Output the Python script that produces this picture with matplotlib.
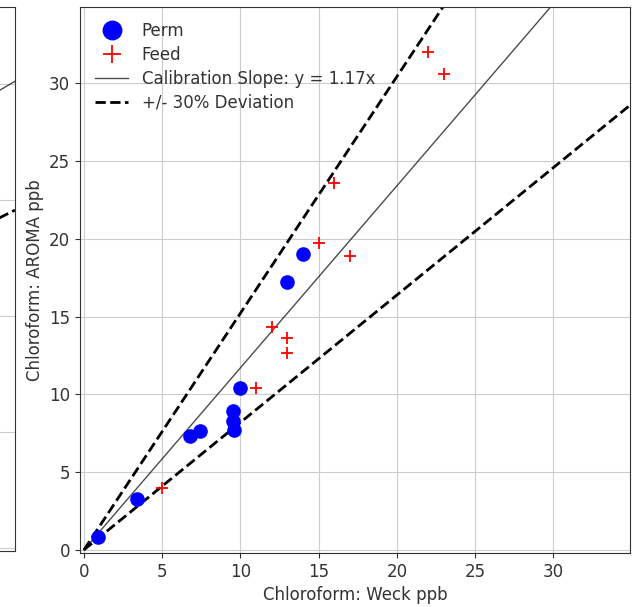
import numpy as np
import matplotlib
matplotlib.use("Agg")
import matplotlib.pyplot as plt

# main panel data
perm_weck = [0.9, 3.4, 6.8, 7.4, 9.5, 9.5, 9.6, 10.0, 13.0, 14.0]
perm_aroma = [0.8, 3.3, 7.3, 7.65, 8.9, 8.3, 7.7, 10.4, 17.2, 19.0]
feed_weck = [5.0, 11.0, 12.0, 13.0, 13.0, 15.0, 16.0, 17.0, 22.0, 23.0]
feed_aroma = [4.0, 10.4, 14.3, 13.6, 12.65, 19.7, 23.6, 18.9, 32.0, 30.6]
slope = 1.17
deviation = 0.30
ticks = [0, 5, 10, 15, 20, 25, 30]

# neighbouring panel, only its right edge is visible
left_fit = (0.136, 2.66)
left_dev = (0.115, 1.76)


def main():
    plt.rcParams["font.size"] = 12
    plt.rcParams["text.color"] = "#333333"
    plt.rcParams["axes.labelcolor"] = "#333333"
    plt.rcParams["xtick.labelcolor"] = "#333333"
    plt.rcParams["ytick.labelcolor"] = "#333333"
    plt.rcParams["axes.edgecolor"] = "#333333"
    plt.rcParams["xtick.color"] = "#333333"
    plt.rcParams["ytick.color"] = "#333333"
    fig = plt.figure(figsize=(6.32, 6.07), dpi=100)

    # cropped neighbour panel
    ax0 = fig.add_axes([-0.4, 0.0923, 0.4237, 0.8962])
    ax0.set_xlim(0, 10)
    ax0.set_ylim(-0.026, 4.66)
    xx = np.array([0, 10])
    ax0.plot(xx, left_fit[0] * xx + left_fit[1], color="k", lw=1, alpha=0.7)
    ax0.plot(xx, left_dev[0] * xx + left_dev[1], "k--", lw=2)
    ax0.set_yticks([0, 1, 2, 3, 4])
    ax0.set_xticks([])
    ax0.grid(True, color="#cccccc")
    ax0.tick_params(labelleft=False, left=False)

    # main panel
    ax = fig.add_axes([0.1266, 0.0890, 0.8702, 0.8995])
    ax.plot(perm_weck, perm_aroma, "o", color="blue", markersize=9.5, label="Perm", zorder=3)
    ax.plot(feed_weck, feed_aroma, "+", color="red", markersize=9, mew=1.3, label="Feed", zorder=3)

    x = np.array([0, 40])
    ax.plot(x, slope * x, color="k", lw=1, alpha=0.7,
            label=f"Calibration Slope: y = {slope}x")
    ax.plot(x, slope * (1 + deviation) * x, "k--", lw=2,
            label=f"+/- {int(deviation * 100)}% Deviation")
    ax.plot(x, slope * (1 - deviation) * x, "k--", lw=2)

    ax.set_xlim(-0.25, 34.9)
    ax.set_ylim(-0.2, 34.9)
    ax.set_xticks(ticks)
    ax.set_yticks(ticks)
    ax.grid(True, color="#cccccc")
    ax.set_xlabel("Chloroform: Weck ppb")
    ax.set_ylabel("Chloroform: AROMA ppb")
    ax.legend(loc="upper left", frameon=False, markerscale=1.4, labelspacing=0.35)

    fig.savefig("out.png", dpi=100)


if __name__ == "__main__":
    main()
